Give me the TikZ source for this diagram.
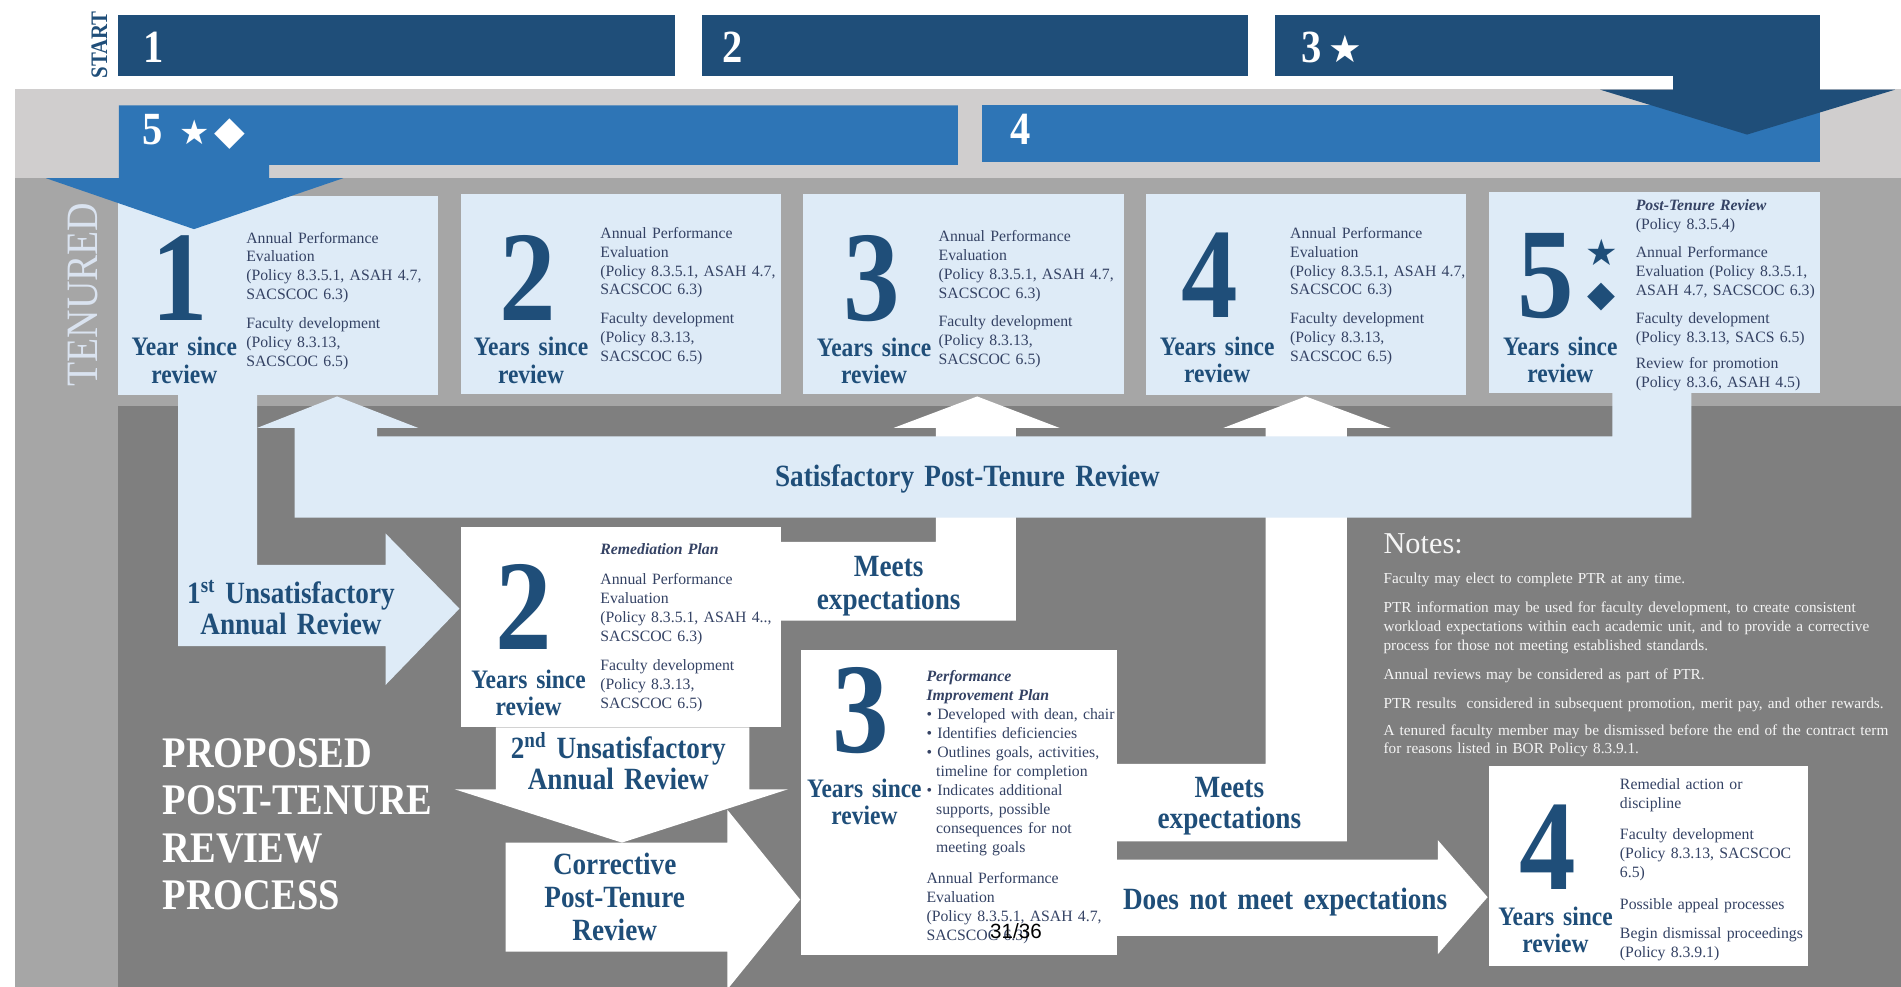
\documentclass[tikz,border=0pt]{standalone}
\usepackage{fontspec}
\setmainfont{Liberation Serif}
\newfontfamily\condserif[FakeStretch=0.88]{Liberation Serif}
\newfontfamily\symfont{DejaVu Sans}
\newfontfamily\pgnumfont{Liberation Sans}
\definecolor{dkblue}{RGB}{31,78,121}
\definecolor{mdblue}{RGB}{46,117,182}
\definecolor{ltblue}{RGB}{222,235,247}
\definecolor{ltgray}{RGB}{208,206,206}
\definecolor{mdgray}{RGB}{166,166,166}
\definecolor{dkgray}{RGB}{127,127,127}
\definecolor{navytext}{RGB}{52,66,100}
\definecolor{tenuredc}{RGB}{218,227,240}
\definecolor{notewhite}{RGB}{245,245,245}
\tikzset{
  bignum/.style={anchor=base, inner sep=0pt, text=dkblue, font=\condserif\bfseries\fontsize{106}{106}\selectfont},
  yrs/.style={anchor=base, inner sep=0pt, text width=130pt, align=center, text=dkblue, font=\condserif\bfseries\fontsize{22}{22.5}\selectfont},
  body/.style={anchor=base west, inner sep=0pt, text width=200pt, align=left, text=navytext, font=\fontsize{13}{15.6}\selectfont},
  head/.style={anchor=base, inner sep=0pt, text width=340pt, align=center, text=dkblue, font=\condserif\bfseries\fontsize{25.5}{25.5}\selectfont},
  barlabel/.style={anchor=base west, inner sep=0pt, text=white, font=\condserif\bfseries\fontsize{38}{38}\selectfont},
  notetext/.style={anchor=base west, inner sep=0pt, text width=440pt, align=left, text=notewhite, font=\fontsize{12.6}{15.5}\selectfont},
  symb/.style={inner sep=0pt, text=dkblue, font=\symfont\fontsize{30}{30}\selectfont}
}
\begin{document}
\begin{tikzpicture}[x=1pt,y=-1pt]
\useasboundingbox (0,0) rectangle (1568,814);
% backgrounds
\fill[white] (0,0) rectangle (1568,814);
\fill[ltgray] (12,73) rectangle (1568,147);
\fill[mdgray] (12,147) rectangle (1568,814);
\fill[dkgray] (97,335) rectangle (1568,814);
% top bars
\fill[dkblue] (97,12) rectangle (557,63);
\fill[dkblue] (579,12) rectangle (1029,63);
\fill[dkblue] (1052,12) rectangle (1501,63);
\fill[mdblue] (810,87) rectangle (1501,134);
\fill[dkblue] (1380,62) -- (1501,62) -- (1501,74) -- (1563,74) -- (1441,111) -- (1320,74) -- (1380,74) -- cycle;
% year boxes
\fill[ltblue] (97,162) rectangle (361,326);
\fill[ltblue] (380,160) rectangle (644,325);
\fill[ltblue] (662,160) rectangle (927,325);
\fill[ltblue] (945,160) rectangle (1209,326);
\fill[ltblue] (1228,158) rectangle (1501,324);
% bar 5 with arrow
\fill[mdblue] (98,87) -- (790,87) -- (790,136) -- (222,136) -- (222,147) -- (283,147) -- (160,189) -- (38,147) -- (98,147) -- cycle;
% white up arrows with meets regions
\fill[white] (772,353) -- (737,353) -- (806,327) -- (874,353) -- (838,353) -- (838,512) -- (644,512) -- (644,447) -- (772,447) -- cycle;
\fill[white] (1044,353) -- (1009,353) -- (1077,327) -- (1147,353) -- (1111,353) -- (1111,694) -- (921,694) -- (921,630) -- (1044,630) -- cycle;
% satisfactory band
\fill[ltblue] (243,360) -- (243,353) -- (212,353) -- (278,327) -- (345,353) -- (311,353) -- (311,360) -- (1330,360) -- (1330,324) -- (1395,324) -- (1395,427) -- (243,427) -- cycle;
% 1st unsatisfactory arrow
\fill[ltblue] (147,326) -- (212,326) -- (212,466) -- (318,466) -- (318,440) -- (379,502) -- (318,565) -- (318,533) -- (147,533) -- cycle;
% lower white boxes and arrows
\fill[white] (380,435) rectangle (644,600);
\fill[white] (409,600) -- (618,600) -- (618,651) -- (650,651) -- (513,695) -- (375,651) -- (409,651) -- cycle;
\fill[white] (417,695) -- (600,695) -- (600,668) -- (660,742) -- (600,816) -- (600,785) -- (417,785) -- cycle;
\fill[white] (661,536) rectangle (921,788);
\fill[white] (921,709) -- (1186,709) -- (1186,693) -- (1227,740) -- (1186,787) -- (1186,772) -- (921,772) -- cycle;
\fill[white] (1228,632) rectangle (1491,797);

% labels on top
\node[rotate=90, inner sep=0pt, text=dkblue, font=\condserif\bfseries\fontsize{19.5}{19.5}\selectfont] (start) at (82,37) {START};
\node[barlabel] (l1) at (118,51.5) {1};
\node[barlabel] (l2) at (596,51.5) {2};
\node[barlabel] (l3) at (1073,51.5) {3\hspace{6pt}{\symfont\fontsize{31}{31}\selectfont ★}};
\node[barlabel] (l5) at (117,119) {5\hspace{14pt}{\symfont\fontsize{28}{28}\selectfont ★\hspace{4pt}{\fontsize{33}{33}\selectfont ◆}}};
\node[barlabel] (l4) at (833,119) {4};
\node[rotate=90, inner sep=0pt, text=tenuredc, font=\condserif\fontsize{37}{37}\selectfont] (ten) at (68.5,243) {TENURED};

% box 1
\node[bignum] (n1) at (148.5,264) {1};
\node[yrs] (y1) at (152,293.5) {Year since\\review};
\node[body] (t1) at (203,200.5) {Annual Performance\\Evaluation\\(Policy 8.3.5.1, ASAH 4.7,\\SACSCOC 6.3)\\[8pt]Faculty development\\(Policy 8.3.13,\\SACSCOC 6.5)};
% box 2
\node[bignum] (n2) at (435,264) {2};
\node[yrs] (y2) at (438,293.5) {Years since\\review};
\node[body] (t2) at (495,196.5) {Annual Performance\\Evaluation\\(Policy 8.3.5.1, ASAH 4.7,\\SACSCOC 6.3)\\[8pt]Faculty development\\(Policy 8.3.13,\\SACSCOC 6.5)};
% box 3
\node[bignum] (n3) at (719,264) {3};
\node[yrs] (y3) at (721,294) {Years since\\review};
\node[body] (t3) at (774,199) {Annual Performance\\Evaluation\\(Policy 8.3.5.1, ASAH 4.7,\\SACSCOC 6.3)\\[8pt]Faculty development\\(Policy 8.3.13,\\SACSCOC 6.5)};
% box 4
\node[bignum] (n4) at (998,262) {4};
\node[yrs] (y4) at (1004,293) {Years since\\review};
\node[body] (t4) at (1064,196.5) {Annual Performance\\Evaluation\\(Policy 8.3.5.1, ASAH 4.7,\\SACSCOC 6.3)\\[8pt]Faculty development\\(Policy 8.3.13,\\SACSCOC 6.5)};
% box 5
\node[bignum] (n5) at (1275,262) {5};
\node[symb] (st5) at (1321,208) {★};
\node[symb] (dm5) at (1321,245) {◆};
\node[yrs] (y5) at (1287,293) {Years since\\review};
\node[body] (t5) at (1349,173.5) {\textbf{\textit{Post-Tenure Review}}\\(Policy 8.3.5.4)\\[7.5pt]Annual Performance\\Evaluation (Policy 8.3.5.1,\\ASAH 4.7, SACSCOC 6.3)\\[7.5pt]Faculty development\\(Policy 8.3.13, SACS 6.5)\\[6.5pt]Review for promotion\\(Policy 8.3.6, ASAH 4.5)};

% flow labels
\node[head] (sat) at (798,401.5) {Satisfactory Post-Tenure Review};
\node[head] (un1) at (240,497.5) {1\textsuperscript{st} Unsatisfactory\\Annual Review};
\node[head] (mt1) at (733,475.5) {Meets\\[1.5pt]expectations};
\node[head] (un2) at (510,625.5) {2\textsuperscript{nd} Unsatisfactory\\Annual Review};
\node[head] (corr) at (507,721.5) {Corrective\\[1.5pt]Post-Tenure\\[1.5pt]Review};
\node[head] (mt2) at (1014,657.5) {Meets\\[0.5pt]expectations};
\node[head] (dnm) at (1060,750.5) {Does not meet expectations};

% remediation box
\node[bignum] (n2r) at (432,536) {2};
\node[yrs] (y2r) at (436,567.5) {Years since\\review};
\node[body] (t2r) at (495,457.5) {\textbf{\textit{Remediation Plan}}\\[9.4pt]Annual Performance\\Evaluation\\(Policy 8.3.5.1, ASAH 4..,\\SACSCOC 6.3)\\[8.4pt]Faculty development\\(Policy 8.3.13,\\SACSCOC 6.5)};

% PIP box
\node[bignum] (n3p) at (710,621) {3};
\node[yrs] (y3p) at (713,657.5) {Years since\\review};
\node[body] (t3p) at (764,562.5) {\textbf{\textit{Performance}}\\\textbf{\textit{Improvement Plan}}\\\textbullet\ Developed with dean, chair\\\textbullet\ Identifies deficiencies\\\textbullet\ Outlines goals, activities,\\\hspace*{8pt}timeline for completion\\\textbullet\ Indicates additional\\\hspace*{8pt}supports, possible\\\hspace*{8pt}consequences for not\\\hspace*{8pt}meeting goals\\[10.4pt]Annual Performance\\Evaluation\\(Policy 8.3.5.1, ASAH 4.7,\\SACSCOC 6.3)};

% final box
\node[bignum] (n4f) at (1277,734) {4};
\node[yrs] (y4f) at (1283,763.5) {Years since\\review};
\node[body] (t4f) at (1336,651.5) {Remedial action or\\discipline\\[10pt]Faculty development\\(Policy 8.3.13, SACSCOC\\6.5)\\[10.5pt]Possible appeal processes\\[8.5pt]Begin dismissal proceedings\\(Policy 8.3.9.1)};

% title
\node[anchor=base west, inner sep=0pt, text width=300pt, align=left, text=white, font=\condserif\bfseries\fontsize{36}{39}\selectfont] (prop) at (134,633) {PROPOSED\\POST-TENURE\\REVIEW\\PROCESS};

% notes
\node[anchor=base west, inner sep=0pt, text=notewhite, font=\fontsize{25}{25}\selectfont] (noteshead) at (1141,456.5) {Notes:};
\node[notetext] (notes) at (1141,481.3) {Faculty may elect to complete PTR at any time.\\[8.5pt]PTR information may be used for faculty development, to create consistent\\workload expectations within each academic unit, and to provide a corrective\\process for those not meeting established standards.\\[8.5pt]Annual reviews may be considered as part of PTR.\\[8.5pt]PTR results\ \ considered in subsequent promotion, merit pay, and other rewards.\\[6.5pt]A tenured faculty member may be dismissed before the end of the contract term\\for reasons listed in BOR Policy 8.3.9.1.};

% page number
\node[inner sep=0pt, text=black, font=\pgnumfont\fontsize{17}{17}\selectfont] (pg) at (838,768) {31/36};
\end{tikzpicture}
\end{document}
